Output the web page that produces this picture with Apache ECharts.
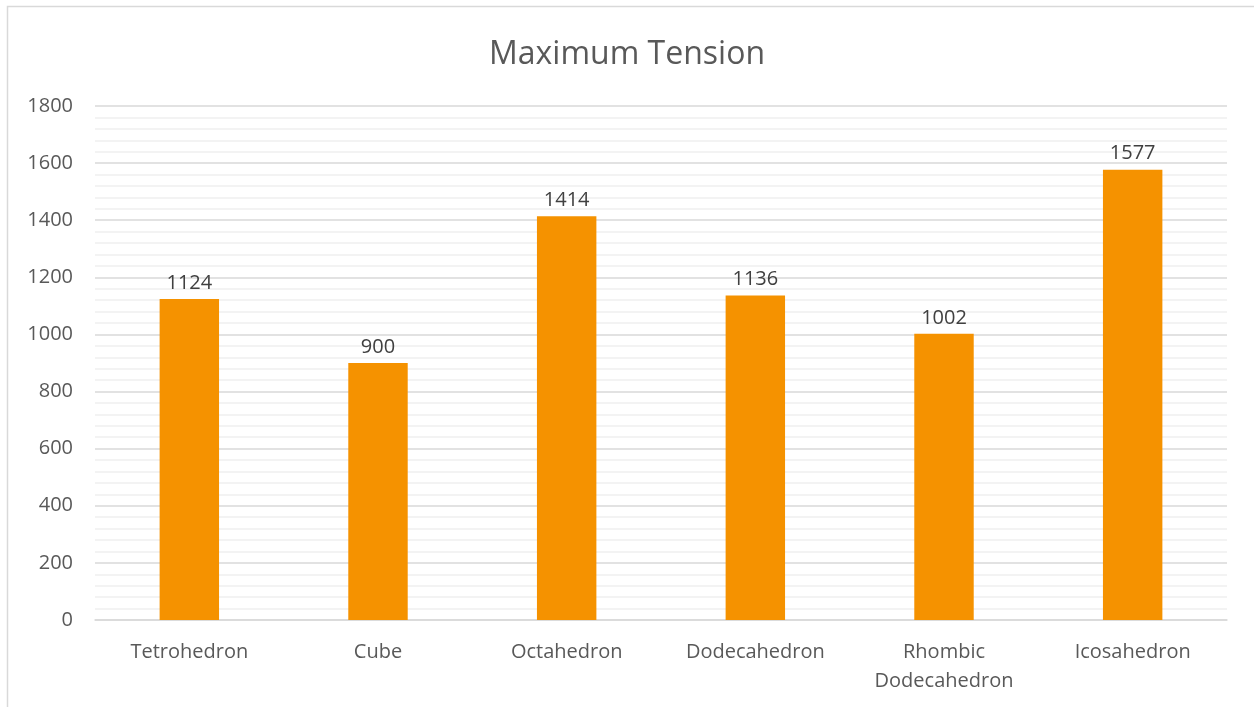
<!DOCTYPE html>
<html>
<head>
<meta charset="utf-8">
<script src="https://cdn.jsdelivr.net/npm/echarts@6/dist/echarts.min.js"></script>
<style>
  html, body { margin: 0; padding: 0; background: #fff; }
  #chart { width: 1254px; height: 707px; }
</style>
</head>
<body>
<div id="chart"></div>
<script>
// Maximum tension per polyhedron frame
const categories = ['Tetrohedron', 'Cube', 'Octahedron', 'Dodecahedron', 'Rhombic\nDodecahedron', 'Icosahedron'];
const tensionValues = [1124, 900, 1414, 1136, 1002, 1577];
const yTicks = [0, 200, 400, 600, 800, 1000, 1200, 1400, 1600, 1800];

const font = '"Open Sans", "Noto Sans", sans-serif';
const chart = echarts.init(document.getElementById('chart'), null, { renderer: 'canvas' });

chart.setOption({
  animation: false,
  backgroundColor: '#ffffff',
  graphic: [{
    type: 'rect',
    shape: { x: 7.5, y: 6.5, width: 1300, height: 800 },
    style: { fill: 'none', stroke: '#d9d9d9', lineWidth: 1.5 },
    silent: true
  }],
  title: {
    text: 'Maximum Tension',
    left: 'center',
    top: 34,
    textStyle: { fontFamily: font, fontSize: 32, fontWeight: 'normal', color: '#595959' }
  },
  grid: { left: 95, right: 27, top: 106, bottom: 87, containLabel: false },
  xAxis: {
    type: 'category',
    data: categories,
    axisLine: { show: true, lineStyle: { color: '#d9d9d9', width: 1.5 } },
    axisTick: { show: false },
    axisLabel: {
      fontFamily: font, fontSize: 20, color: '#595959', margin: 18, lineHeight: 29, interval: 0
    }
  },
  yAxis: {
    type: 'value',
    min: yTicks[0],
    max: yTicks[yTicks.length - 1],
    interval: 200,
    axisLine: { show: false },
    axisTick: { show: false },
    axisLabel: {
      fontFamily: font, fontSize: 20, color: '#595959', margin: 22,
      formatter: v => String(v)
    },
    splitLine: { show: true, lineStyle: { color: '#d9d9d9', width: 1.5 } },
    minorTick: { show: false, splitNumber: 5 },
    minorSplitLine: { show: true, lineStyle: { color: '#f0f0f0', width: 1.5 } }
  },
  series: [{
    type: 'bar',
    data: tensionValues,
    barWidth: '31.5%',
    itemStyle: { color: '#f59200' },
    label: {
      show: true,
      position: 'top',
      distance: 6,
      fontFamily: font,
      fontSize: 20,
      color: '#404040'
    }
  }]
});
</script>
</body>
</html>
